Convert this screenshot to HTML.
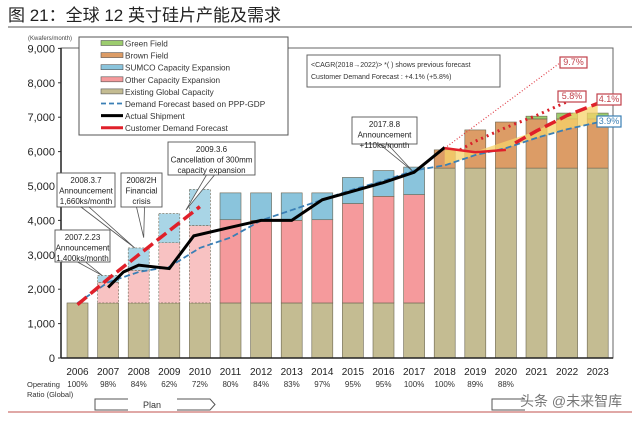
<!DOCTYPE html>
<html><head><meta charset="utf-8"><style>
body{margin:0;background:#fff;width:640px;height:416px;overflow:hidden;font-family:"Liberation Sans","Noto Sans CJK SC",sans-serif}
svg text{font-family:"Liberation Sans","Noto Sans CJK SC",sans-serif}
</style></head><body>
<svg id="c" width="640" height="416" xmlns="http://www.w3.org/2000/svg"></svg>
<script>
const years=[2006,2007,2008,2009,2010,2011,2012,2013,2014,2015,2016,2017,2018,2019,2020,2021,2022,2023];
const ratios=["100%","98%","84%","62%","72%","80%","84%","83%","97%","95%","95%","100%","100%","89%","88%","","",""];
const existing=[1600,1600,1600,1600,1600,1600,1600,1600,1600,1600,1600,1600,5520,5520,5520,5520,5520,5520];
const otherExp=[0,600,950,1750,2250,2420,2400,2400,2420,2890,3100,3150,0,0,0,0,0,0];
const sumcoExp=[0,200,650,850,1050,780,800,800,780,760,750,800,0,0,0,0,0,0];
const brownField=[0,0,0,0,0,0,0,0,0,0,0,0,530,1110,1340,1430,1430,1430];
const greenField=[0,0,0,0,0,0,0,0,0,0,0,0,0,0,0,80,170,170];
const shipX=[2007,2007.5,2008,2009,2009.8,2011,2012,2013,2014,2015,2016,2017,2018];
const shipY=[2050,2500,2700,2600,3550,3800,4000,4000,4600,4850,5100,5400,6120];
const custOldX=[2006,2007,2008,2009,2010];
const custOldY=[1550,2300,3000,3700,4400];
const custSolidX=[2018,2019,2020];
const custSolidY=[6100,5980,6050];
const custNewX=[2020.3,2021,2022,2023];
const custNewY=[6250,6600,7050,7400];
const prev58X=[2018.5,2019,2020,2021,2022];
const prev58Y=[6050,6300,6700,7050,7450];
const prev97X=[2018,2021.8];
const prev97Y=[6100,8600];
const demandX=years;
const demandY=[1600,2200,2500,2650,3200,3500,4000,4300,4600,4900,5150,5450,5600,5900,6100,6400,6650,6850];
const yTicks=[0,1000,2000,3000,4000,5000,6000,7000,8000,9000];

const svg=document.getElementById('c');const NS='http://www.w3.org/2000/svg';
function X(y){return 77.5+(y-2006)*30.6}
function Y(v){return 358-v*0.0344}
function el(t,a,txt){const e=document.createElementNS(NS,t);for(const k in a)e.setAttribute(k,a[k]);if(txt!==undefined)e.textContent=txt;svg.appendChild(e);return e}
// title
let t=el('text',{x:8,y:21,'font-size':17,fill:'#222'},'图 21：全球 12 英寸硅片产能及需求');

el('line',{x1:8,y1:27,x2:632,y2:27,stroke:'#555','stroke-width':1});
el('line',{x1:8,y1:412,x2:632,y2:412,stroke:'#c0504d','stroke-width':1});
// frame
el('rect',{x:61,y:48,width:552,height:310,fill:'none',stroke:'#666','stroke-width':1});
t=el('text',{x:28,y:40,'font-size':6,fill:'#444'},'(Kwafers/month)');

yTicks.forEach(v=>{const tk=el('text',{x:55,y:Y(v)+4,'font-size':11,'text-anchor':'end',fill:'#222'},v.toLocaleString('en-US'));

el('line',{x1:58,y1:Y(v),x2:61,y2:Y(v),stroke:'#333'});});
// bars
years.forEach((yr,i)=>{const plan=i>=1&&i<=4;const x=X(yr)-10.5,w=21;let base=0;
 const segs=[[existing[i],'#c4bc92','existing-capacity'],[otherExp[i],plan?'#f8c2c2':'#f59a9c','other-capacity-expansion'],[sumcoExp[i],plan?'#a9d5e6':'#8ac4dc','sumco-capacity-expansion'],[brownField[i],'#dc9c66','brown-field'],[greenField[i],'#9ccc6e','green-field']];
 segs.forEach(s=>{if(s[0]<=0)return;const r=el('rect',{x:x,y:Y(base+s[0]),width:w,height:s[0]*0.0344,fill:s[1],stroke:'#6a6450','stroke-width':0.6});
 if(plan&&s[2]!=='existing-capacity'){r.setAttribute('stroke-dasharray','2,1.5');}
 base+=s[0];});
 const lb=el('text',{x:X(yr),y:375,'font-size':10,'text-anchor':'middle',fill:'#222'},String(yr));
 
 const rl=el('text',{x:X(yr),y:387,'font-size':8,'text-anchor':'middle',fill:'#333'},ratios[i]);
 
});
el('line',{x1:61,y1:358,x2:613,y2:358,stroke:'#222','stroke-width':1.5});
el('line',{x1:61,y1:48,x2:61,y2:358,stroke:'#222','stroke-width':1.5});
// yellow fill between demand and customer forecast
let pts=[];for(let i=12;i<18;i++)pts.push(X(years[i])+','+Y(demandY[i]));
pts.push(X(2023)+','+Y(7400));pts.push(X(2022)+','+Y(7050));pts.push(X(2021)+','+Y(6600));pts.push(X(2019)+','+Y(6000));pts.push(X(2018)+','+Y(6100));
let pf=el('polygon',{points:pts.join(' '),fill:'#f7d36a',opacity:0.75});

function line(xs,ys,attrs,name){const p=el('polyline',Object.assign({points:xs.map((x,i)=>X(x)+','+Y(ys[i])).join(' '),fill:'none'},attrs));return p}
line(demandX,demandY,{stroke:'#3a7fb5','stroke-width':1.8,'stroke-dasharray':'6,3'},'demand-forecast-line');
line(prev97X,prev97Y,{stroke:'#e0404a','stroke-width':1.2,'stroke-dasharray':'1,2'},'previous-forecast-9.7-line');
line(prev58X,prev58Y,{stroke:'#d9202a','stroke-width':3,'stroke-dasharray':'2,4'},'previous-forecast-5.8-line');
line(shipX,shipY,{stroke:'#000','stroke-width':3},'actual-shipment-line');
line(custOldX,custOldY,{stroke:'#e0202a','stroke-width':3.5,'stroke-dasharray':'12,5'},'customer-demand-forecast-past');
line(custSolidX,custSolidY,{stroke:'#e0202a','stroke-width':2.5},'customer-demand-solid');
line(custNewX,custNewY,{stroke:'#e0202a','stroke-width':3.5,'stroke-dasharray':'12,5'},'customer-demand-forecast-line');
// rate boxes
function box(x,y,w,h,txt,col,name,fs){const r=el('rect',{x:x,y:y,width:w,height:h,fill:'#fff',stroke:col,'stroke-width':1.2});el('text',{x:x+w/2,y:y+h-3,'font-size':fs||9,'text-anchor':'middle',fill:col},txt)}
box(560,57,27,11,'9.7%','#c0404a','label-9.7');
box(558,91,28,11,'5.8%','#c0404a','label-5.8');
box(597,94,24,11,'4.1%','#c0404a','label-4.1');
box(597,116,24,11,'3.9%','#3a7fb5','label-3.9');
// legend
let lg=el('rect',{x:79,y:37,width:209,height:98,fill:'#fff',stroke:'#555'});
const lgItems=[['Green Field','#9ccc6e','r'],['Brown Field','#dc9c66','r'],['SUMCO Capacity Expansion','#8ac4dc','r'],['Other Capacity Expansion','#f59a9c','r'],['Existing Global Capacity','#c4bc92','r'],['Demand Forecast based on PPP-GDP','#3a7fb5','d'],['Actual Shipment','#000','l'],['Customer Demand Forecast','#e0202a','l']];
lgItems.forEach((it,i)=>{const y=43+i*12.1;
 if(it[2]==='r')el('rect',{x:101,y:y-2.5,width:22,height:5,fill:it[1],stroke:'#555','stroke-width':0.6});
 else el('line',{x1:101,y1:y,x2:123,y2:y,stroke:it[1],'stroke-width':it[2]==='d'?1.8:3,'stroke-dasharray':it[2]==='d'?'5,3':''});
 const lt=el('text',{x:125,y:y+3.5,'font-size':8.2,fill:'#333'},it[0]);
 });
// CAGR box
let cb=el('rect',{x:307,y:55,width:193,height:32,fill:'#fff',stroke:'#666'});
el('text',{x:311,y:67,'font-size':7,fill:'#333'},'<CAGR(2018→2022)> *( ) shows previous forecast');
el('text',{x:311,y:79,'font-size':7,fill:'#333'},'Customer Demand Forecast : +4.1% (+5.8%)');
// callouts
function call(x,y,w,h,lines,px,py,name){el('polygon',{points:`${x+w/2-5},${y+h} ${px},${py} ${x+w/2+3},${y+h}`,fill:'#fff',stroke:'#555','stroke-width':0.8});
 const r=el('rect',{x:x,y:y,width:w,height:h,fill:'#fff',stroke:'#555','stroke-width':0.9});
 lines.forEach((l,i)=>el('text',{x:x+w/2,y:y+10+i*10.5,'font-size':8,'text-anchor':'middle',fill:'#222'},l));}
call(352,117,65,27,['2017.8.8','Announcement','+110ks/month'],X(2017)-2,Y(5450),'callout-2017');
call(168,142,87,33,['2009.3.6','Cancellation of 300mm','capacity expansion'],X(2010)-14,Y(4300),'callout-2009');
call(57,173,58,34,['2008.3.7','Announcement','1,660ks/month'],X(2008)-4,Y(3200),'callout-2008-announcement');
call(121,173,41,34,['2008/2H','Financial','crisis'],X(2008)+5,Y(3500),'callout-2008-crisis');
call(55,230,55,32,['2007.2.23','Announcement','1,400ks/month'],X(2007)-6,Y(2400),'callout-2007');
// operating ratio + plan
el('text',{x:27,y:387,'font-size':7.5,fill:'#333'},'Operating');
el('text',{x:27,y:397,'font-size':7.5,fill:'#333'},'Ratio (Global)');
el('polyline',{points:'128,399 95,399 95,410 128,410',fill:'none',stroke:'#555','stroke-width':1});
el('polyline',{points:'177,399 210,399 215,404.5 210,410 177,410',fill:'none',stroke:'#555','stroke-width':1});
let pl=el('text',{x:152,y:408,'font-size':9,'text-anchor':'middle',fill:'#333'},'Plan');
el('polyline',{points:'525,399 492,399 492,410 525,410',fill:'none',stroke:'#555','stroke-width':1});
let wm=el('text',{x:520,y:406,'font-size':14,fill:'#555',opacity:0.8},'头条 @未来智库');
</script>
</body></html>
